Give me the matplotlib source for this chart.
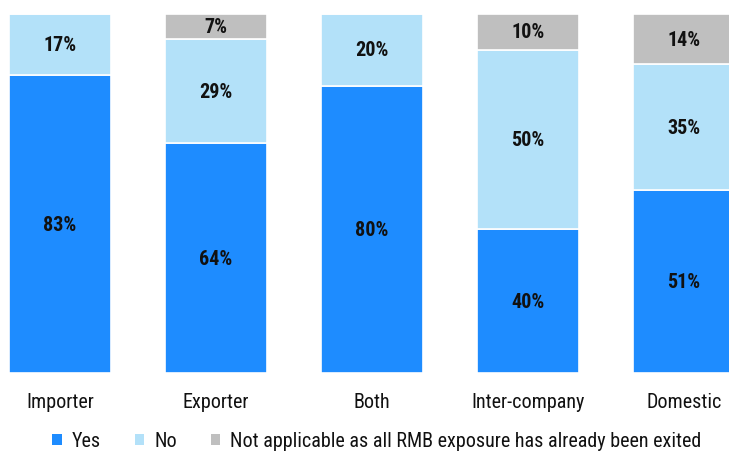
import matplotlib
matplotlib.use("Agg")
import matplotlib.pyplot as plt
from matplotlib import font_manager
from matplotlib.patches import Patch
import numpy as np

# Prefer a narrow sans face for the compact labels
narrow_names = ["Liberation Sans Narrow", "Roboto Condensed", "Open Sans Condensed",
                "Noto Sans Condensed", "DejaVu Sans Condensed", "Arial Narrow"]
installed = {f.name for f in font_manager.fontManager.ttflist}
family, stretch = None, "normal"
for n in narrow_names:
    if n in installed:
        family = n
        break
if family is None:
    for f in font_manager.fontManager.ttflist:
        if f.stretch in ("condensed", "semi-condensed", "extra-condensed") and \
                f.name in ("DejaVu Sans", "Roboto", "Noto Sans", "Open Sans", "Liberation Sans"):
            family, stretch = f.name, f.stretch
            break
if family is None:
    family = "Liberation Sans"
plt.rcParams['font.family'] = [family, 'DejaVu Sans']
plt.rcParams['font.stretch'] = stretch

categories = ["Importer", "Exporter", "Both", "Inter-company", "Domestic"]
yes_vals = [83, 64, 80, 40, 51]
no_vals = [17, 29, 20, 50, 35]
na_vals = [0, 7, 0, 10, 14]
series_names = ["Yes", "No", "Not applicable as all RMB exposure has already been exited"]
colors = ["#1E8CFF", "#B3E1F9", "#BFBFBF"]

W, H = 729, 452
fig = plt.figure(figsize=(W / 100, H / 100), dpi=100)
ax = fig.add_axes([0, (H - 374) / H, 1, (374 - 15) / H])

x = np.arange(len(categories))
bar_w = 102 / 156
bottom = np.zeros(len(categories))
for vals, col in zip([yes_vals, no_vals, na_vals], colors):
    vals = np.array(vals, dtype=float)
    ax.bar(x, vals, bar_w, bottom=bottom, color=col, edgecolor="white", linewidth=1.2)
    for xi, v, b in zip(x, vals, bottom):
        if v > 0:
            ax.text(xi, b + v / 2, f"{int(v)}%", ha="center", va="center",
                    fontsize=14.5, fontweight="bold", color="#111111")
    bottom += vals

ax.set_xlim(-60 / 156, (W - 60) / 156)
ax.set_ylim(0, 100)
ax.axis("off")

for xi, c in zip(x, categories):
    ax.text(xi, -8, c, ha="center", va="center", fontsize=14.5, color="#111111")

handles = [Patch(facecolor=c, edgecolor="none") for c in colors]
fig.legend(handles, series_names, loc="center", bbox_to_anchor=(0.517, 1 - 442 / H),
           ncol=3, frameon=False, fontsize=14.5, handlelength=0.45, handleheight=0.45,
           handletextpad=0.5, columnspacing=1.7, labelcolor="#111111")

fig.savefig("out.png", dpi=100)
